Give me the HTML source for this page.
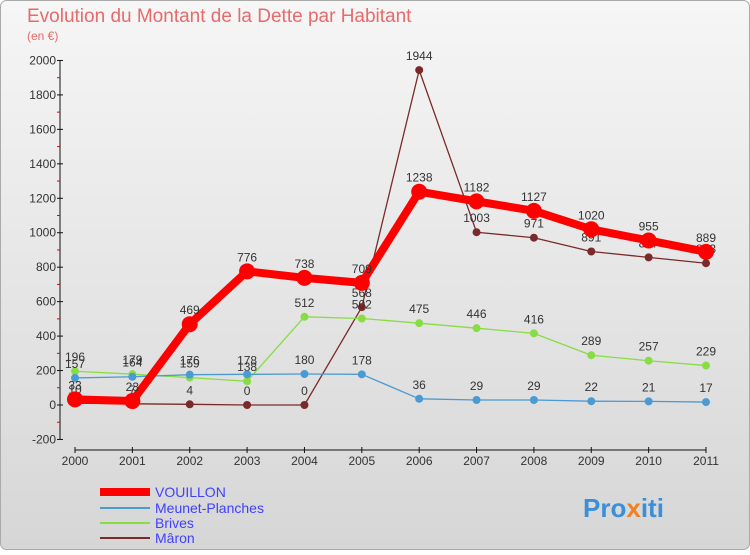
<!DOCTYPE html>
<html><head><meta charset="utf-8"><style>
body{margin:0;width:750px;height:550px;overflow:hidden;font-family:"Liberation Sans",sans-serif}
</style></head><body>
<svg id="c" width="750" height="550" xmlns="http://www.w3.org/2000/svg">
<defs><linearGradient id="bg" x1="0" y1="0" x2="0" y2="1"><stop offset="0" stop-color="#f6f6f6"/><stop offset="1" stop-color="#d6d6d6"/></linearGradient></defs>
<rect x="0.5" y="0.5" width="749" height="549" rx="6" fill="url(#bg)" stroke="#aaa"/>
<text x="27" y="22" font-size="19" fill="#e86a6a">Evolution du Montant de la Dette par Habitant</text>
<text x="27" y="40" font-size="12" fill="#e86a6a">(en €)</text>
<g id="axes"></g><g id="series"></g>
<g>
<rect x="100" y="488" width="50" height="8" fill="#ff0000"/>
<text x="155" y="497" font-size="14" fill="#4040ff">VOUILLON</text>
<line x1="100" y1="508" x2="150" y2="508" stroke="#4a9ad4" stroke-width="2"/>
<text x="155" y="513" font-size="14" fill="#4040ff">Meunet-Planches</text>
<line x1="100" y1="523" x2="150" y2="523" stroke="#88dd44" stroke-width="2"/>
<text x="155" y="528" font-size="14" fill="#4040ff">Brives</text>
<line x1="100" y1="538" x2="150" y2="538" stroke="#7a2a2a" stroke-width="2"/>
<text x="155" y="543" font-size="14" fill="#4040ff">Mâron</text>
</g>
<text x="583" y="517" font-size="26" font-weight="bold" fill="#3a8fd8">Pro<tspan fill="#f08020">x</tspan>iti</text>
</svg>
<script>
const years=["2000","2001","2002","2003","2004","2005","2006","2007","2008","2009","2010","2011"];
const yTicks=[-200,0,200,400,600,800,1000,1200,1400,1600,1800,2000];
const vouillon=[33,23,469,776,738,709,1238,1182,1127,1020,955,889];
const meunet=[157,164,176,178,180,178,36,29,29,22,21,17];
const brives=[196,179,159,138,512,502,475,446,416,289,257,229];
const maron=[10,7,4,0,0,568,1944,1003,971,891,857,823];
const NS="http://www.w3.org/2000/svg";
const x=i=>75+i*(631/11);
const y=v=>405-v*0.17227;
function el(t,a,p){const e=document.createElementNS(NS,t);for(const k in a)e.setAttribute(k,a[k]);p.appendChild(e);return e;}
const ax=document.getElementById('axes');
const yl=el('line',{x1:60,y1:y(2000),x2:60,y2:y(-200),stroke:'#111'},ax);


const xl=el('line',{x1:x(0),y1:450,x2:x(11),y2:450,stroke:'#111'},ax);


yTicks.forEach(v=>{
  el('line',{x1:57,y1:y(v),x2:63,y2:y(v),stroke:'#111'},ax);
  if(v<2000) el('line',{x1:57,y1:y(v+100),x2:60,y2:y(v+100),stroke:'#e00'},ax);
  const t=el('text',{x:56,y:y(v)+4,'font-size':12,'text-anchor':'end',fill:'#333'},ax);
  t.textContent=v;
  
  
});
years.forEach((yr,i)=>{
  el('line',{x1:x(i),y1:447,x2:x(i),y2:453,stroke:'#111'},ax);
  const t=el('text',{x:x(i),y:465,'font-size':12,'text-anchor':'middle',fill:'#333'},ax);
  t.textContent=yr;
  
  
});
const sg=document.getElementById('series');
function draw(data,color,w,r,name){
  const g=el('g',{},sg);
  
  
  const pl=el('polyline',{points:data.map((v,i)=>x(i)+','+y(v)).join(' '),fill:'none',stroke:color,'stroke-width':w,'stroke-linejoin':'round'},g);
  
  
  data.forEach((v,i)=>{
    const c=el('circle',{cx:x(i),cy:y(v),r:r,fill:color},g);
    
    
    const t=el('text',{x:x(i),y:y(v)-10,'font-size':12,'text-anchor':'middle',fill:'#333'},g);
    t.textContent=v;
    
    
  });
}
draw(maron,'#7a2a2a',1.3,4,'maron');
draw(brives,'#88dd44',1.3,4,'brives');
draw(meunet,'#4a9ad4',1.3,4,'meunet-planches');
draw(vouillon,'#ff0000',8,8,'vouillon');
</script>
</body></html>
